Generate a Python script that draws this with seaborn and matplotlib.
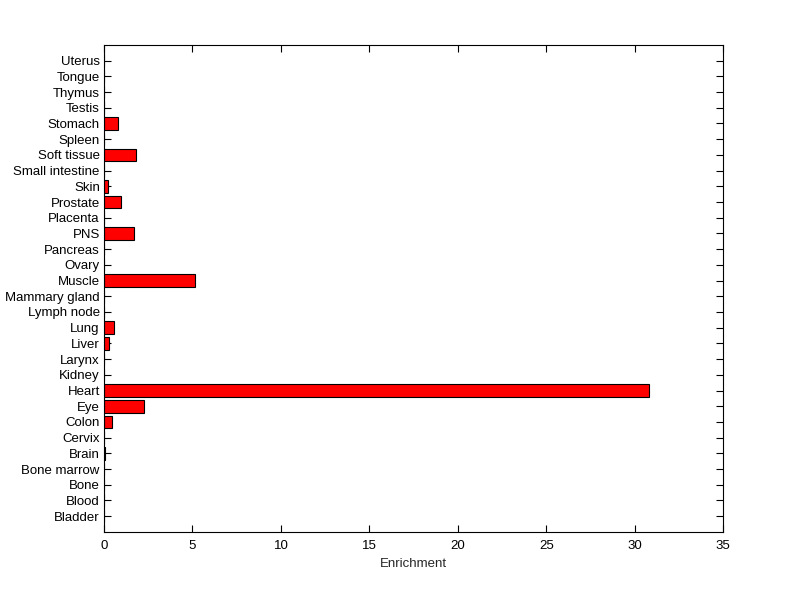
import numpy as np
import pandas as pd
import seaborn as sns
import matplotlib
matplotlib.use("Agg")
import matplotlib.pyplot as plt

# tissues listed bottom -> top as in the chart
tissues = ["Bladder", "Blood", "Bone", "Bone marrow", "Brain", "Cervix", "Colon",
           "Eye", "Heart", "Kidney", "Larynx", "Liver", "Lung", "Lymph node",
           "Mammary gland", "Muscle", "Ovary", "Pancreas", "PNS", "Placenta",
           "Prostate", "Skin", "Small intestine", "Soft tissue", "Spleen",
           "Stomach", "Testis", "Thymus", "Tongue", "Uterus"]
enrichment = [0, 0, 0, 0, 0.08, 0, 0.45,
              2.26, 30.8, 0, 0, 0.28, 0.59, 0,
              0, 5.17, 0, 0, 1.70, 0,
              0.96, 0.23, 0, 1.81, 0,
              0.79, 0, 0, 0, 0]

df = pd.DataFrame({"tissue": tissues, "enrichment": enrichment})

sns.set_style("white")
plt.rcParams["font.family"] = ["Liberation Sans", "DejaVu Sans"]

fig = plt.figure(figsize=(8, 5.99), dpi=100)
ax = fig.add_axes([0.13, 0.112, 0.774, 0.813])

sns.barplot(data=df, x="enrichment", y="tissue", order=tissues[::-1],
            color="red", saturation=1, edgecolor="black", linewidth=0.8,
            width=0.8, ax=ax)

ax.set_xlim(0, 35)
ax.set_ylim(30, -1)
ax.set_xticks(np.arange(0, 36, 5))
ax.set_xlabel("Enrichment", fontsize=9.5, labelpad=4)
ax.set_ylabel("")
ax.tick_params(axis="both", direction="in", length=5, width=0.8, labelsize=9.5,
               left=True, bottom=True, top=True, right=True, colors="black")
ax.tick_params(axis="x", pad=6)
ax.tick_params(axis="y", pad=3)
for s in ax.spines.values():
    s.set_visible(True)
    s.set_color("black")
    s.set_linewidth(0.8)

fig.savefig("out.png", dpi=100, facecolor="white")
